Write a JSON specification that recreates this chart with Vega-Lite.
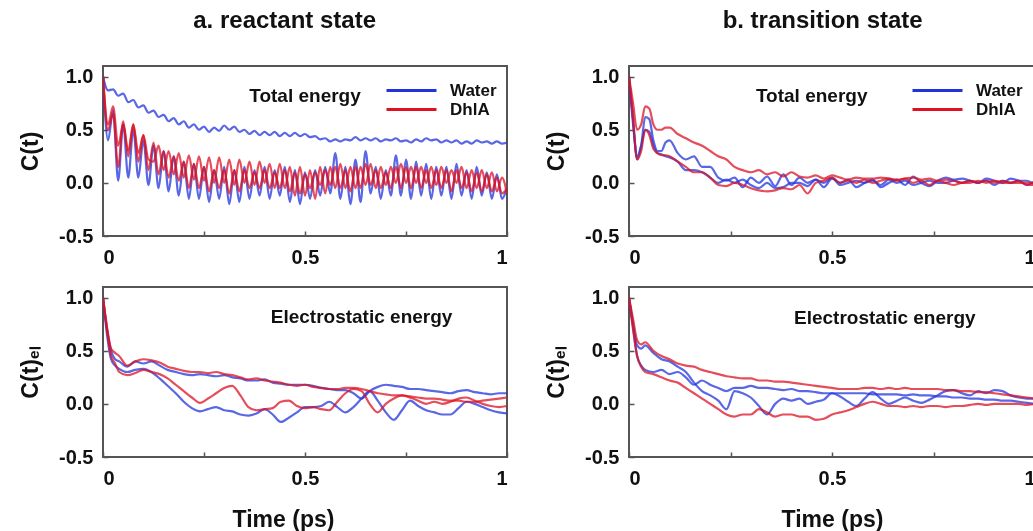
{
"$schema": "https://vega.github.io/schema/vega-lite/v6.json",
"background": "white",
"padding": {"left": 18, "top": 8, "right": 0, "bottom": 0},
"config": {
  "font": "Liberation Sans",
  "view": {"stroke": "#555", "strokeWidth": 2},
  "axis": {"labelFont": "Liberation Sans", "labelFontWeight": "bold", "labelFontSize": 20, "labelColor": "#111", "titleFont": "Liberation Sans", "titleFontWeight": "bold", "titleFontSize": 23, "titleColor": "#111", "domain": false, "grid": false, "tickColor": "#555", "tickSize": -5, "tickWidth": 1.5},
  "axisX": {"labelPadding": 16, "titlePadding": 20},
  "axisY": {"labelPadding": 15, "titlePadding": 16},
  "title": {"font": "Liberation Sans", "fontSize": 24, "fontWeight": "bold", "color": "#111", "anchor": "middle", "frame": "bounds", "offset": 33},
  "legend": {"orient": "none", "legendX": 300, "legendY": 16, "title": null, "labelFont": "Liberation Sans", "labelFontSize": 17, "labelFontWeight": "bold", "labelColor": "#111", "symbolType": "M-5,0H5", "symbolSize": 100, "symbolStrokeWidth": 3, "symbolOpacity": 1, "rowPadding": 1, "labelOffset": 30}
},
"datasets": {
  "at": [
    {"t":0,"W1":1.0,"W2":1.0,"D1":1.0,"D2":1.0},
    {"t":0.0125,"W1":0.87,"W2":0.40,"D1":0.55,"D2":0.50},
    {"t":0.025,"W1":0.88,"W2":0.68,"D1":0.72,"D2":0.65},
    {"t":0.0375,"W1":0.82,"W2":0.02,"D1":0.35,"D2":0.15},
    {"t":0.05,"W1":0.84,"W2":0.55,"D1":0.55,"D2":0.58},
    {"t":0.0625,"W1":0.76,"W2":0.05,"D1":0.30,"D2":0.25},
    {"t":0.075,"W1":0.78,"W2":0.50,"D1":0.55,"D2":0.55},
    {"t":0.0875,"W1":0.71,"W2":0.05,"D1":0.28,"D2":0.20},
    {"t":0.1,"W1":0.73,"W2":0.40,"D1":0.45,"D2":0.45},
    {"t":0.1125,"W1":0.66,"W2":-0.02,"D1":0.22,"D2":0.12},
    {"t":0.125,"W1":0.68,"W2":0.35,"D1":0.20,"D2":0.38},
    {"t":0.1375,"W1":0.62,"W2":-0.05,"D1":0.35,"D2":0.08},
    {"t":0.15,"W1":0.64,"W2":0.30,"D1":0.12,"D2":0.30},
    {"t":0.1625,"W1":0.58,"W2":-0.08,"D1":0.30,"D2":0.05},
    {"t":0.175,"W1":0.61,"W2":0.25,"D1":0.08,"D2":0.25},
    {"t":0.1875,"W1":0.55,"W2":-0.12,"D1":0.28,"D2":0.02},
    {"t":0.2,"W1":0.58,"W2":0.20,"D1":0.05,"D2":0.20},
    {"t":0.2125,"W1":0.52,"W2":-0.15,"D1":0.26,"D2":-0.05},
    {"t":0.225,"W1":0.55,"W2":0.18,"D1":0.03,"D2":0.18},
    {"t":0.2375,"W1":0.50,"W2":-0.15,"D1":0.25,"D2":-0.05},
    {"t":0.25,"W1":0.53,"W2":0.15,"D1":0.02,"D2":0.15},
    {"t":0.2625,"W1":0.48,"W2":-0.18,"D1":0.24,"D2":-0.08},
    {"t":0.275,"W1":0.52,"W2":0.12,"D1":0.00,"D2":0.12},
    {"t":0.2875,"W1":0.49,"W2":-0.15,"D1":0.24,"D2":-0.05},
    {"t":0.3,"W1":0.54,"W2":0.15,"D1":0.00,"D2":0.12},
    {"t":0.3125,"W1":0.50,"W2":-0.20,"D1":0.22,"D2":-0.10},
    {"t":0.325,"W1":0.53,"W2":0.12,"D1":-0.02,"D2":0.12},
    {"t":0.3375,"W1":0.48,"W2":-0.18,"D1":0.22,"D2":-0.08},
    {"t":0.35,"W1":0.50,"W2":0.15,"D1":0.00,"D2":0.12},
    {"t":0.3625,"W1":0.46,"W2":-0.15,"D1":0.20,"D2":-0.05},
    {"t":0.375,"W1":0.49,"W2":0.12,"D1":-0.02,"D2":0.10},
    {"t":0.3875,"W1":0.45,"W2":-0.12,"D1":0.20,"D2":-0.05},
    {"t":0.4,"W1":0.48,"W2":0.15,"D1":0.00,"D2":0.12},
    {"t":0.4125,"W1":0.45,"W2":-0.15,"D1":0.18,"D2":-0.05},
    {"t":0.425,"W1":0.48,"W2":0.12,"D1":-0.05,"D2":0.10},
    {"t":0.4375,"W1":0.44,"W2":-0.12,"D1":0.18,"D2":-0.05},
    {"t":0.45,"W1":0.47,"W2":0.15,"D1":-0.05,"D2":0.12},
    {"t":0.4625,"W1":0.44,"W2":-0.18,"D1":0.15,"D2":-0.08},
    {"t":0.475,"W1":0.47,"W2":0.12,"D1":-0.12,"D2":0.10},
    {"t":0.4875,"W1":0.44,"W2":-0.20,"D1":0.15,"D2":-0.10},
    {"t":0.5,"W1":0.46,"W2":0.10,"D1":-0.12,"D2":0.08},
    {"t":0.5125,"W1":0.43,"W2":-0.15,"D1":0.12,"D2":-0.05},
    {"t":0.525,"W1":0.44,"W2":0.12,"D1":-0.15,"D2":0.10},
    {"t":0.5375,"W1":0.41,"W2":-0.12,"D1":0.15,"D2":-0.02},
    {"t":0.55,"W1":0.42,"W2":0.15,"D1":-0.10,"D2":0.12},
    {"t":0.5625,"W1":0.39,"W2":-0.10,"D1":0.15,"D2":-0.02},
    {"t":0.575,"W1":0.41,"W2":0.28,"D1":-0.05,"D2":0.15},
    {"t":0.5875,"W1":0.39,"W2":-0.15,"D1":0.18,"D2":-0.05},
    {"t":0.6,"W1":0.41,"W2":0.15,"D1":-0.05,"D2":0.12},
    {"t":0.6125,"W1":0.40,"W2":-0.20,"D1":0.15,"D2":-0.08},
    {"t":0.625,"W1":0.43,"W2":0.22,"D1":-0.05,"D2":0.15},
    {"t":0.6375,"W1":0.40,"W2":-0.18,"D1":0.15,"D2":-0.05},
    {"t":0.65,"W1":0.42,"W2":0.30,"D1":-0.02,"D2":0.18},
    {"t":0.6625,"W1":0.40,"W2":-0.10,"D1":0.18,"D2":-0.02},
    {"t":0.675,"W1":0.42,"W2":0.15,"D1":-0.05,"D2":0.12},
    {"t":0.6875,"W1":0.39,"W2":-0.15,"D1":0.15,"D2":-0.05},
    {"t":0.7,"W1":0.41,"W2":0.12,"D1":-0.02,"D2":0.10},
    {"t":0.7125,"W1":0.40,"W2":-0.12,"D1":0.15,"D2":-0.05},
    {"t":0.725,"W1":0.42,"W2":0.26,"D1":0.00,"D2":0.15},
    {"t":0.7375,"W1":0.39,"W2":-0.12,"D1":0.18,"D2":-0.05},
    {"t":0.75,"W1":0.40,"W2":0.22,"D1":0.00,"D2":0.15},
    {"t":0.7625,"W1":0.38,"W2":-0.15,"D1":0.15,"D2":-0.05},
    {"t":0.775,"W1":0.41,"W2":0.20,"D1":0.00,"D2":0.15},
    {"t":0.7875,"W1":0.39,"W2":-0.12,"D1":0.15,"D2":-0.05},
    {"t":0.8,"W1":0.42,"W2":0.18,"D1":0.00,"D2":0.12},
    {"t":0.8125,"W1":0.40,"W2":-0.15,"D1":0.15,"D2":-0.05},
    {"t":0.825,"W1":0.41,"W2":0.15,"D1":-0.02,"D2":0.12},
    {"t":0.8375,"W1":0.38,"W2":-0.12,"D1":0.15,"D2":-0.05},
    {"t":0.85,"W1":0.40,"W2":0.15,"D1":0.00,"D2":0.12},
    {"t":0.8625,"W1":0.38,"W2":-0.15,"D1":0.12,"D2":-0.08},
    {"t":0.875,"W1":0.40,"W2":0.18,"D1":0.00,"D2":0.12},
    {"t":0.8875,"W1":0.37,"W2":-0.12,"D1":0.15,"D2":-0.05},
    {"t":0.9,"W1":0.39,"W2":0.12,"D1":-0.05,"D2":0.10},
    {"t":0.9125,"W1":0.37,"W2":-0.15,"D1":0.12,"D2":-0.08},
    {"t":0.925,"W1":0.40,"W2":0.15,"D1":-0.05,"D2":0.10},
    {"t":0.9375,"W1":0.38,"W2":-0.12,"D1":0.12,"D2":-0.08},
    {"t":0.95,"W1":0.39,"W2":0.10,"D1":-0.05,"D2":0.08},
    {"t":0.9625,"W1":0.37,"W2":-0.15,"D1":0.10,"D2":-0.08},
    {"t":0.975,"W1":0.39,"W2":0.08,"D1":-0.08,"D2":0.05},
    {"t":0.9875,"W1":0.37,"W2":-0.15,"D1":0.05,"D2":-0.10},
    {"t":1.0,"W1":0.38,"W2":-0.05,"D1":-0.10,"D2":-0.05}
  ],
  "bt": [
    {"t":0,"W1":1.0,"W2":1.0,"D1":1.0,"D2":1.0},
    {"t":0.01,"W1":0.6,"W2":0.55,"D1":0.75,"D2":0.6},
    {"t":0.02,"W1":0.22,"W2":0.25,"D1":0.5,"D2":0.22},
    {"t":0.03,"W1":0.35,"W2":0.35,"D1":0.55,"D2":0.3},
    {"t":0.04,"W1":0.62,"W2":0.5,"D1":0.72,"D2":0.5},
    {"t":0.05,"W1":0.6,"W2":0.48,"D1":0.7,"D2":0.45},
    {"t":0.06,"W1":0.4,"W2":0.35,"D1":0.55,"D2":0.32},
    {"t":0.07,"W1":0.3,"W2":0.28,"D1":0.5,"D2":0.28},
    {"t":0.08,"W1":0.3,"W2":0.27,"D1":0.5,"D2":0.26},
    {"t":0.09,"W1":0.38,"W2":0.25,"D1":0.52,"D2":0.26},
    {"t":0.1,"W1":0.4,"W2":0.24,"D1":0.52,"D2":0.25},
    {"t":0.12,"W1":0.28,"W2":0.2,"D1":0.46,"D2":0.2},
    {"t":0.14,"W1":0.22,"W2":0.12,"D1":0.42,"D2":0.15},
    {"t":0.16,"W1":0.25,"W2":0.12,"D1":0.38,"D2":0.1},
    {"t":0.18,"W1":0.15,"W2":0.1,"D1":0.35,"D2":0.1},
    {"t":0.2,"W1":0.15,"W2":0.05,"D1":0.3,"D2":0.05},
    {"t":0.22,"W1":0.05,"W2":0.0,"D1":0.25,"D2":-0.02},
    {"t":0.24,"W1":0.02,"W2":0.03,"D1":0.22,"D2":-0.03},
    {"t":0.26,"W1":0.05,"W2":0.0,"D1":0.15,"D2":0.0},
    {"t":0.28,"W1":-0.04,"W2":0.03,"D1":0.12,"D2":-0.02},
    {"t":0.3,"W1":0.05,"W2":-0.02,"D1":0.1,"D2":-0.05},
    {"t":0.32,"W1":0.0,"W2":-0.05,"D1":0.12,"D2":-0.07},
    {"t":0.34,"W1":0.06,"W2":0.0,"D1":0.08,"D2":-0.08},
    {"t":0.36,"W1":-0.03,"W2":-0.05,"D1":0.1,"D2":-0.07},
    {"t":0.38,"W1":0.08,"W2":-0.04,"D1":0.06,"D2":-0.05},
    {"t":0.4,"W1":-0.02,"W2":0.0,"D1":0.1,"D2":-0.06},
    {"t":0.42,"W1":0.05,"W2":0.0,"D1":0.06,"D2":-0.02},
    {"t":0.44,"W1":0.0,"W2":-0.03,"D1":0.05,"D2":-0.1},
    {"t":0.46,"W1":0.03,"W2":0.03,"D1":0.07,"D2":0.0},
    {"t":0.48,"W1":-0.04,"W2":0.0,"D1":0.04,"D2":0.02},
    {"t":0.5,"W1":0.04,"W2":0.05,"D1":0.07,"D2":0.05},
    {"t":0.52,"W1":0.0,"W2":-0.02,"D1":0.05,"D2":0.0},
    {"t":0.54,"W1":0.03,"W2":0.0,"D1":0.03,"D2":0.02},
    {"t":0.56,"W1":-0.04,"W2":0.02,"D1":0.05,"D2":0.0},
    {"t":0.58,"W1":0.0,"W2":0.0,"D1":0.04,"D2":0.03},
    {"t":0.6,"W1":0.03,"W2":0.02,"D1":0.04,"D2":0.0},
    {"t":0.62,"W1":-0.04,"W2":-0.02,"D1":0.05,"D2":0.02},
    {"t":0.64,"W1":0.0,"W2":0.03,"D1":0.04,"D2":0.04},
    {"t":0.66,"W1":0.03,"W2":0.0,"D1":0.03,"D2":0.02},
    {"t":0.68,"W1":-0.02,"W2":0.02,"D1":0.04,"D2":0.04},
    {"t":0.7,"W1":0.06,"W2":-0.02,"D1":0.05,"D2":0.0},
    {"t":0.72,"W1":0.0,"W2":0.0,"D1":0.03,"D2":0.02},
    {"t":0.74,"W1":-0.03,"W2":0.02,"D1":0.04,"D2":-0.02},
    {"t":0.76,"W1":0.02,"W2":0.0,"D1":0.02,"D2":0.02},
    {"t":0.78,"W1":0.05,"W2":0.0,"D1":0.03,"D2":0.0},
    {"t":0.8,"W1":0.03,"W2":0.02,"D1":0.02,"D2":-0.02},
    {"t":0.82,"W1":0.04,"W2":0.0,"D1":0.0,"D2":0.0},
    {"t":0.84,"W1":0.02,"W2":0.02,"D1":0.02,"D2":0.0},
    {"t":0.86,"W1":0.0,"W2":0.0,"D1":0.0,"D2":0.02},
    {"t":0.88,"W1":0.04,"W2":0.02,"D1":0.02,"D2":0.0},
    {"t":0.9,"W1":0.02,"W2":-0.02,"D1":0.0,"D2":0.02},
    {"t":0.92,"W1":0.0,"W2":0.02,"D1":0.02,"D2":0.0},
    {"t":0.94,"W1":0.04,"W2":0.0,"D1":0.0,"D2":0.0},
    {"t":0.96,"W1":0.02,"W2":0.02,"D1":0.0,"D2":0.02},
    {"t":0.98,"W1":-0.02,"W2":0.02,"D1":0.0,"D2":-0.02},
    {"t":1.0,"W1":0.02,"W2":-0.02,"D1":0.0,"D2":-0.02}
  ],
  "ae": [
    {"t":0,"W1":1.0,"D1":1.0,"W2":1.0,"D2":1.0},
    {"t":0.01,"W1":0.7,"D1":0.72,"W2":0.65,"D2":0.7},
    {"t":0.02,"W1":0.5,"D1":0.52,"W2":0.42,"D2":0.45},
    {"t":0.03,"W1":0.42,"D1":0.48,"W2":0.36,"D2":0.38},
    {"t":0.04,"W1":0.4,"D1":0.45,"W2":0.33,"D2":0.3},
    {"t":0.06,"W1":0.35,"D1":0.36,"W2":0.3,"D2":0.27},
    {"t":0.08,"W1":0.4,"D1":0.4,"W2":0.32,"D2":0.29},
    {"t":0.1,"W1":0.38,"D1":0.42,"W2":0.33,"D2":0.32},
    {"t":0.12,"W1":0.4,"D1":0.41,"W2":0.3,"D2":0.3},
    {"t":0.14,"W1":0.36,"D1":0.39,"W2":0.24,"D2":0.28},
    {"t":0.16,"W1":0.32,"D1":0.35,"W2":0.17,"D2":0.24},
    {"t":0.18,"W1":0.3,"D1":0.33,"W2":0.1,"D2":0.18},
    {"t":0.2,"W1":0.28,"D1":0.31,"W2":0.02,"D2":0.12},
    {"t":0.22,"W1":0.27,"D1":0.3,"W2":-0.04,"D2":0.06},
    {"t":0.24,"W1":0.28,"D1":0.3,"W2":-0.07,"D2":0.01},
    {"t":0.26,"W1":0.27,"D1":0.29,"W2":-0.05,"D2":0.05},
    {"t":0.28,"W1":0.26,"D1":0.3,"W2":-0.03,"D2":0.1},
    {"t":0.3,"W1":0.27,"D1":0.28,"W2":-0.06,"D2":0.15},
    {"t":0.32,"W1":0.25,"D1":0.27,"W2":-0.07,"D2":0.17},
    {"t":0.34,"W1":0.24,"D1":0.25,"W2":-0.1,"D2":0.08},
    {"t":0.36,"W1":0.22,"D1":0.23,"W2":-0.11,"D2":-0.03},
    {"t":0.38,"W1":0.22,"D1":0.24,"W2":-0.09,"D2":-0.06},
    {"t":0.4,"W1":0.23,"D1":0.22,"W2":-0.05,"D2":-0.05},
    {"t":0.42,"W1":0.2,"D1":0.21,"W2":-0.1,"D2":-0.04},
    {"t":0.44,"W1":0.19,"D1":0.2,"W2":-0.17,"D2":0.02},
    {"t":0.46,"W1":0.18,"D1":0.18,"W2":-0.13,"D2":0.03},
    {"t":0.48,"W1":0.18,"D1":0.17,"W2":-0.08,"D2":-0.02},
    {"t":0.5,"W1":0.18,"D1":0.18,"W2":-0.03,"D2":-0.04},
    {"t":0.52,"W1":0.17,"D1":0.16,"W2":-0.03,"D2":-0.03},
    {"t":0.54,"W1":0.15,"D1":0.15,"W2":-0.02,"D2":-0.05},
    {"t":0.56,"W1":0.14,"D1":0.14,"W2":0.02,"D2":-0.06},
    {"t":0.58,"W1":0.13,"D1":0.14,"W2":-0.03,"D2":0.02},
    {"t":0.6,"W1":0.13,"D1":0.15,"W2":-0.08,"D2":0.1},
    {"t":0.62,"W1":0.1,"D1":0.15,"W2":-0.03,"D2":0.14},
    {"t":0.64,"W1":0.05,"D1":0.14,"W2":0.05,"D2":0.12},
    {"t":0.66,"W1":0.12,"D1":0.12,"W2":0.12,"D2":0.0},
    {"t":0.68,"W1":0.16,"D1":0.1,"W2":0.03,"D2":-0.08},
    {"t":0.7,"W1":0.18,"D1":0.09,"W2":-0.08,"D2":0.0},
    {"t":0.72,"W1":0.17,"D1":0.08,"W2":-0.15,"D2":0.05},
    {"t":0.74,"W1":0.16,"D1":0.08,"W2":-0.06,"D2":0.08},
    {"t":0.76,"W1":0.14,"D1":0.07,"W2":0.03,"D2":0.06},
    {"t":0.78,"W1":0.14,"D1":0.06,"W2":-0.02,"D2":0.03},
    {"t":0.8,"W1":0.13,"D1":0.05,"W2":-0.06,"D2":0.0},
    {"t":0.82,"W1":0.12,"D1":0.05,"W2":-0.08,"D2":0.02},
    {"t":0.84,"W1":0.11,"D1":0.04,"W2":-0.1,"D2":0.0},
    {"t":0.86,"W1":0.1,"D1":0.03,"W2":-0.1,"D2":0.02},
    {"t":0.88,"W1":0.12,"D1":0.03,"W2":-0.04,"D2":0.05},
    {"t":0.9,"W1":0.13,"D1":0.02,"W2":0.02,"D2":0.06},
    {"t":0.92,"W1":0.11,"D1":0.02,"W2":0.0,"D2":0.03},
    {"t":0.94,"W1":0.1,"D1":0.03,"W2":-0.03,"D2":0.0},
    {"t":0.96,"W1":0.09,"D1":0.04,"W2":-0.06,"D2":-0.02},
    {"t":0.98,"W1":0.1,"D1":0.05,"W2":-0.08,"D2":-0.03},
    {"t":1.0,"W1":0.1,"D1":0.06,"W2":-0.09,"D2":-0.02}
  ],
  "be": [
    {"t":0,"W1":1.0,"W2":1.0,"D1":1.0,"D2":1.0},
    {"t":0.01,"W1":0.75,"W2":0.72,"D1":0.8,"D2":0.7},
    {"t":0.02,"W1":0.55,"W2":0.45,"D1":0.6,"D2":0.45},
    {"t":0.03,"W1":0.52,"W2":0.36,"D1":0.56,"D2":0.35},
    {"t":0.04,"W1":0.55,"W2":0.32,"D1":0.58,"D2":0.3},
    {"t":0.06,"W1":0.48,"W2":0.3,"D1":0.5,"D2":0.28},
    {"t":0.08,"W1":0.42,"W2":0.32,"D1":0.45,"D2":0.25},
    {"t":0.1,"W1":0.4,"W2":0.28,"D1":0.42,"D2":0.22},
    {"t":0.12,"W1":0.35,"W2":0.3,"D1":0.38,"D2":0.2},
    {"t":0.14,"W1":0.3,"W2":0.25,"D1":0.36,"D2":0.15},
    {"t":0.16,"W1":0.2,"W2":0.18,"D1":0.35,"D2":0.1},
    {"t":0.18,"W1":0.12,"W2":0.22,"D1":0.32,"D2":0.05},
    {"t":0.2,"W1":0.08,"W2":0.18,"D1":0.3,"D2":0.0},
    {"t":0.22,"W1":0.03,"W2":0.15,"D1":0.28,"D2":-0.05},
    {"t":0.24,"W1":-0.05,"W2":0.12,"D1":0.26,"D2":-0.1},
    {"t":0.26,"W1":0.12,"W2":0.15,"D1":0.25,"D2":-0.12},
    {"t":0.28,"W1":0.1,"W2":0.15,"D1":0.24,"D2":-0.1},
    {"t":0.3,"W1":0.06,"W2":0.17,"D1":0.24,"D2":-0.1},
    {"t":0.32,"W1":-0.02,"W2":0.15,"D1":0.22,"D2":-0.05},
    {"t":0.34,"W1":-0.1,"W2":0.15,"D1":0.22,"D2":-0.08},
    {"t":0.36,"W1":0.0,"W2":0.14,"D1":0.21,"D2":-0.12},
    {"t":0.38,"W1":0.05,"W2":0.13,"D1":0.21,"D2":-0.1},
    {"t":0.4,"W1":0.03,"W2":0.14,"D1":0.2,"D2":-0.1},
    {"t":0.42,"W1":0.05,"W2":0.12,"D1":0.19,"D2":-0.12},
    {"t":0.44,"W1":0.0,"W2":0.12,"D1":0.18,"D2":-0.12},
    {"t":0.46,"W1":0.02,"W2":0.11,"D1":0.17,"D2":-0.15},
    {"t":0.48,"W1":0.04,"W2":0.1,"D1":0.16,"D2":-0.14},
    {"t":0.5,"W1":0.1,"W2":0.1,"D1":0.15,"D2":-0.1},
    {"t":0.52,"W1":0.07,"W2":0.1,"D1":0.14,"D2":-0.08},
    {"t":0.54,"W1":0.02,"W2":0.1,"D1":0.14,"D2":-0.06},
    {"t":0.56,"W1":-0.02,"W2":0.1,"D1":0.14,"D2":-0.03},
    {"t":0.58,"W1":0.05,"W2":0.1,"D1":0.15,"D2":0.0},
    {"t":0.6,"W1":0.11,"W2":0.09,"D1":0.15,"D2":0.02},
    {"t":0.62,"W1":0.05,"W2":0.09,"D1":0.14,"D2":0.0},
    {"t":0.64,"W1":0.0,"W2":0.09,"D1":0.15,"D2":-0.02},
    {"t":0.66,"W1":0.03,"W2":0.09,"D1":0.14,"D2":-0.02},
    {"t":0.68,"W1":0.06,"W2":0.08,"D1":0.15,"D2":-0.03},
    {"t":0.7,"W1":0.03,"W2":0.09,"D1":0.14,"D2":-0.02},
    {"t":0.72,"W1":0.01,"W2":0.08,"D1":0.14,"D2":-0.03},
    {"t":0.74,"W1":0.04,"W2":0.08,"D1":0.14,"D2":-0.02},
    {"t":0.76,"W1":0.08,"W2":0.07,"D1":0.14,"D2":-0.02},
    {"t":0.78,"W1":0.12,"W2":0.07,"D1":0.13,"D2":-0.03},
    {"t":0.8,"W1":0.13,"W2":0.06,"D1":0.13,"D2":-0.02},
    {"t":0.82,"W1":0.1,"W2":0.06,"D1":0.12,"D2":-0.02},
    {"t":0.84,"W1":0.08,"W2":0.05,"D1":0.12,"D2":-0.01},
    {"t":0.86,"W1":0.12,"W2":0.05,"D1":0.11,"D2":0.0},
    {"t":0.88,"W1":0.1,"W2":0.04,"D1":0.11,"D2":-0.01},
    {"t":0.9,"W1":0.13,"W2":0.04,"D1":0.1,"D2":0.0},
    {"t":0.92,"W1":0.12,"W2":0.03,"D1":0.09,"D2":0.0},
    {"t":0.94,"W1":0.08,"W2":0.03,"D1":0.08,"D2":0.0},
    {"t":0.96,"W1":0.06,"W2":0.02,"D1":0.07,"D2":0.0},
    {"t":0.98,"W1":0.05,"W2":0.01,"D1":0.06,"D2":-0.01},
    {"t":1.0,"W1":0.05,"W2":0.0,"D1":0.05,"D2":0.0}
  ]
},
"columns": 2,
"spacing": {"row": 51, "column": 122},
"bounds": "flush",
"resolve": {"legend": {"color": "independent"}},
"concat": [
  {
    "title": {"text": "a. reactant state", "dx": 21},
    "width": 404, "height": 170,
    "layer": [
      {
        "data": {"name": "at"},
        "transform": [{"fold": ["W1","W2","D1","D2"], "as": ["run","c"]}],
        "mark": {"type": "line", "strokeWidth": 2.2, "opacity": 0.75, "blend": "multiply", "interpolate": "monotone", "clip": true},
        "encoding": {
          "x": {"field": "t", "type": "quantitative", "scale": {"domain": [0,1], "nice": false}, "axis": {"title": null, "values": [0,0.25,0.5,0.75,1], "format": "~g", "labelExpr": "datum.value == 0.25 || datum.value == 0.75 ? '' : datum.label"}},
          "y": {"field": "c", "type": "quantitative", "scale": {"domain": [-0.5,1.1], "nice": false}, "axis": {"title": "C(t)", "values": [-0.5,-0.25,0,0.25,0.5,0.75,1], "format": ".1f", "labelExpr": "datum.value == 0.25 || datum.value == 0.75 || datum.value == -0.25 ? '' : replace(datum.label, '−', '-')"}},
          "color": {"field": "run", "type": "nominal", "scale": {"domain": ["W1","W2","D1","D2"], "range": ["#2233dd","#2233dd","#dd1122","#dd1122"]}, "legend": {"values": ["W1","D1"], "labelExpr": "datum.label == 'W1' ? 'Water' : 'DhlA'"}}
        }
      },
      {
        "data": {"values": [{}]},
        "mark": {"type": "text", "font": "Liberation Sans", "fontSize": 19, "fontWeight": "bold", "color": "#111"},
        "encoding": {"x": {"datum": 0.5, "type": "quantitative"}, "y": {"datum": 0.82, "type": "quantitative"}, "text": {"value": "Total energy"}}
      }
    ]
  },
  {
    "title": {"text": "b. transition state", "dx": 32},
    "width": 406, "height": 170,
    "layer": [
      {
        "data": {"name": "bt"},
        "transform": [{"fold": ["W1","W2","D1","D2"], "as": ["run","c"]}],
        "mark": {"type": "line", "strokeWidth": 2.2, "opacity": 0.75, "blend": "multiply", "interpolate": "monotone", "clip": true},
        "encoding": {
          "x": {"field": "t", "type": "quantitative", "scale": {"domain": [0,1], "nice": false}, "axis": {"title": null, "values": [0,0.25,0.5,0.75,1], "format": "~g", "labelExpr": "datum.value == 0.25 || datum.value == 0.75 ? '' : datum.label"}},
          "y": {"field": "c", "type": "quantitative", "scale": {"domain": [-0.5,1.1], "nice": false}, "axis": {"title": "C(t)", "values": [-0.5,-0.25,0,0.25,0.5,0.75,1], "format": ".1f", "labelExpr": "datum.value == 0.25 || datum.value == 0.75 || datum.value == -0.25 ? '' : replace(datum.label, '−', '-')"}},
          "color": {"field": "run", "type": "nominal", "scale": {"domain": ["W1","W2","D1","D2"], "range": ["#2233dd","#2233dd","#dd1122","#dd1122"]}, "legend": {"values": ["W1","D1"], "labelExpr": "datum.label == 'W1' ? 'Water' : 'DhlA'"}}
        }
      },
      {
        "data": {"values": [{}]},
        "mark": {"type": "text", "font": "Liberation Sans", "fontSize": 19, "fontWeight": "bold", "color": "#111"},
        "encoding": {"x": {"datum": 0.45, "type": "quantitative"}, "y": {"datum": 0.82, "type": "quantitative"}, "text": {"value": "Total energy"}}
      }
    ]
  },
  {
    "width": 404, "height": 170,
    "layer": [
      {
        "data": {"name": "ae"},
        "transform": [{"fold": ["W1","W2","D1","D2"], "as": ["run","c"]}],
        "mark": {"type": "line", "strokeWidth": 2.2, "opacity": 0.75, "blend": "multiply", "interpolate": "monotone", "clip": true},
        "encoding": {
          "x": {"field": "t", "type": "quantitative", "scale": {"domain": [0,1], "nice": false}, "axis": {"title": "Time (ps)", "titleX": 180, "values": [0,0.25,0.5,0.75,1], "format": "~g", "labelExpr": "datum.value == 0.25 || datum.value == 0.75 ? '' : datum.label"}},
          "y": {"field": "c", "type": "quantitative", "scale": {"domain": [-0.5,1.1], "nice": false}, "axis": {"title": "C(t)ₑₗ", "values": [-0.5,-0.25,0,0.25,0.5,0.75,1], "format": ".1f", "labelExpr": "datum.value == 0.25 || datum.value == 0.75 || datum.value == -0.25 ? '' : replace(datum.label, '−', '-')"}},
          "color": {"field": "run", "type": "nominal", "scale": {"domain": ["W1","W2","D1","D2"], "range": ["#2233dd","#2233dd","#dd1122","#dd1122"]}, "legend": null}
        }
      },
      {
        "data": {"values": [{}]},
        "mark": {"type": "text", "font": "Liberation Sans", "fontSize": 19, "fontWeight": "bold", "color": "#111"},
        "encoding": {"x": {"datum": 0.64, "type": "quantitative"}, "y": {"datum": 0.82, "type": "quantitative"}, "text": {"value": "Electrostatic energy"}}
      }
    ]
  },
  {
    "width": 406, "height": 170,
    "layer": [
      {
        "data": {"name": "be"},
        "transform": [{"fold": ["W1","W2","D1","D2"], "as": ["run","c"]}],
        "mark": {"type": "line", "strokeWidth": 2.2, "opacity": 0.75, "blend": "multiply", "interpolate": "monotone", "clip": true},
        "encoding": {
          "x": {"field": "t", "type": "quantitative", "scale": {"domain": [0,1], "nice": false}, "axis": {"title": "Time (ps)", "values": [0,0.25,0.5,0.75,1], "format": "~g", "labelExpr": "datum.value == 0.25 || datum.value == 0.75 ? '' : datum.label"}},
          "y": {"field": "c", "type": "quantitative", "scale": {"domain": [-0.5,1.1], "nice": false}, "axis": {"title": "C(t)ₑₗ", "values": [-0.5,-0.25,0,0.25,0.5,0.75,1], "format": ".1f", "labelExpr": "datum.value == 0.25 || datum.value == 0.75 || datum.value == -0.25 ? '' : replace(datum.label, '−', '-')"}},
          "color": {"field": "run", "type": "nominal", "scale": {"domain": ["W1","W2","D1","D2"], "range": ["#2233dd","#2233dd","#dd1122","#dd1122"]}, "legend": null}
        }
      },
      {
        "data": {"values": [{}]},
        "mark": {"type": "text", "font": "Liberation Sans", "fontSize": 19, "fontWeight": "bold", "color": "#111"},
        "encoding": {"x": {"datum": 0.63, "type": "quantitative"}, "y": {"datum": 0.81, "type": "quantitative"}, "text": {"value": "Electrostatic energy"}}
      }
    ]
  }
]
}
